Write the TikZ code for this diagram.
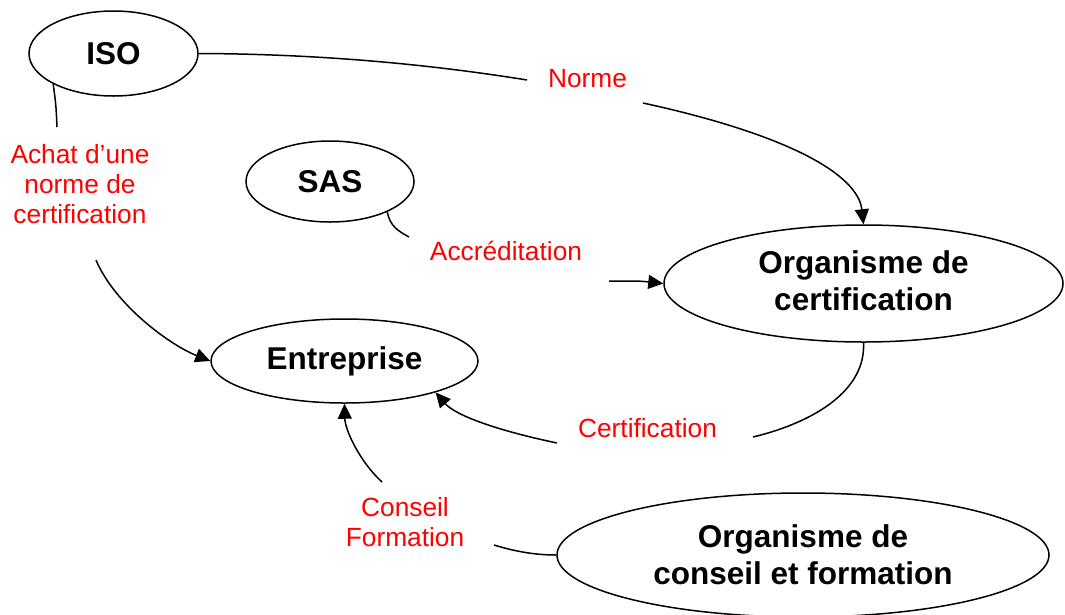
\documentclass[tikz,border=0pt]{standalone}
\usepackage{fontspec}
\setmainfont{Liberation Sans}
\usetikzlibrary{shapes.geometric,arrows.meta}
\definecolor{lblred}{RGB}{255,0,0}
\tikzset{
  entity/.style={draw, ellipse, line width=1.5pt, inner sep=0pt,
    font=\fontsize{31.5}{37}\selectfont\bfseries, align=center},
  flowlabel/.style={text=lblred, font=\fontsize{26.3}{30}\selectfont,
    align=center, inner sep=0pt},
  link/.style={line width=1.5pt},
  arrowlink/.style={link, -{Triangle[length=15pt,width=14pt]}}
}
\begin{document}
\begin{tikzpicture}[x=1pt,y=-1pt]
\useasboundingbox (0,0) rectangle (1065,614);

% entities
\node[entity, minimum width=169pt, minimum height=85pt] (iso) at (113.5,53.5) {ISO};
\node[entity, minimum width=168pt, minimum height=81pt] (sas) at (330,181.5) {SAS};
\node[entity, minimum width=399pt, minimum height=117pt] (oc) at (863.5,283.5) {Organisme de\\certification\rule[-6pt]{0pt}{6pt}};
\node[entity, minimum width=267pt, minimum height=84pt] (ent) at (344.5,361) {Entreprise};
\node[entity, minimum width=492pt, minimum height=124pt] (ocf) at (803,555) {Organisme de\\conseil et formation};

% labels
\node[flowlabel] (norme) at (587.5,79) {Norme};
\node[flowlabel] (achat) at (80,184) {Achat d’une\\norme de\\certification};
\node[flowlabel] (accred) at (506,250.5) {Accréditation};
\node[flowlabel] (certif) at (647.5,428.5) {Certification};
\node[flowlabel] (conseil) at (405,522) {Conseil\\Formation};

% free ends of connectors around labels
\coordinate (n1) at (527,80);
\coordinate (n2) at (643,103);
\coordinate (a1) at (57,127);
\coordinate (a2) at (96,260);
\coordinate (a3) at (409,237);
\coordinate (a4) at (609,281);
\coordinate (c1) at (753,437);
\coordinate (c2) at (557,443);
\coordinate (c3) at (382,482);
\coordinate (c4) at (494,545);

% ISO -> Organisme de certification (Norme)
\draw[link] (iso.east) .. controls (330,54) and (440,66) .. (n1);
\draw[arrowlink] (n2) .. controls (790,135) and (858,175) .. (oc.north);

% ISO -> Entreprise (Achat)
\draw[link] (iso.south west) .. controls (56,105) .. (a1);
\draw[arrowlink] (a2) .. controls (115,305) and (170,345) .. (ent.west);

% SAS -> Organisme de certification (Accreditation)
\draw[link] (sas.-28) .. controls (390,226) and (398,231) .. (a3);
\draw[arrowlink] (a4) .. controls (640,281) .. (oc.west);

% Organisme de certification -> Entreprise (Certification)
\draw[link] (oc.south) .. controls (866,390) and (815,422) .. (c1);
\draw[arrowlink] (c2) .. controls (495,430) and (455,415) .. (ent.-19);

% Organisme de conseil -> Entreprise (Conseil Formation)
\draw[link] (ocf.west) .. controls (540,555) and (520,553) .. (c4);
\draw[arrowlink] (c3) .. controls (360,462) and (345,430) .. (ent.south);
\end{tikzpicture}
\end{document}
